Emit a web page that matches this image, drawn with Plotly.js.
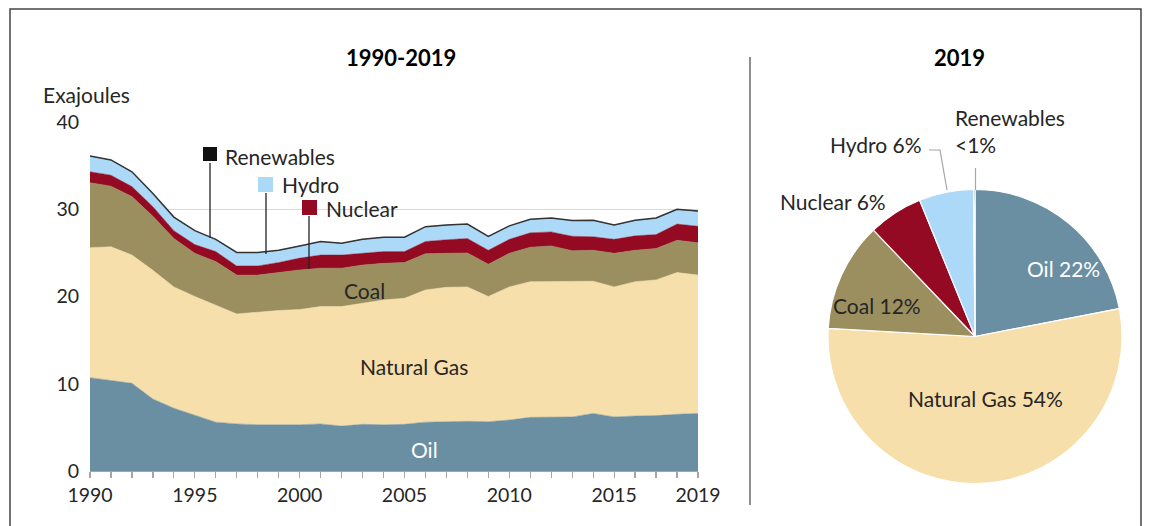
<!DOCTYPE html>
<html>
<head>
<meta charset="utf-8">
<script src="https://cdn.plot.ly/plotly-3.0.1.min.js"></script>
<style>
html,body{margin:0;padding:0;background:#fff;}
#chart{width:1151px;height:526px;}
</style>
</head>
<body>
<div id="chart"></div>
<script>
// ---------- Data ----------
const years = [1990,1991,1992,1993,1994,1995,1996,1997,1998,1999,2000,2001,2002,2003,2004,2005,2006,2007,2008,2009,2010,2011,2012,2013,2014,2015,2016,2017,2018,2019];
const oil = [10.7,10.4,10.05,8.25,7.2,6.4,5.6,5.4,5.3,5.3,5.3,5.4,5.15,5.35,5.3,5.35,5.6,5.65,5.7,5.65,5.85,6.15,6.15,6.2,6.6,6.2,6.3,6.35,6.5,6.6];
const naturalGas = [14.9,15.3,14.7,14.75,13.9,13.6,13.4,12.6,12.9,13.1,13.2,13.45,13.7,13.85,14.3,14.45,15.15,15.4,15.4,14.35,15.25,15.55,15.55,15.5,15.15,14.9,15.4,15.55,16.25,15.85];
const coal = [7.45,6.95,6.7,6.2,5.55,4.95,5.0,4.45,4.25,4.35,4.55,4.4,4.4,4.4,4.2,4.1,4.15,3.9,3.9,3.7,3.85,3.95,4.1,3.55,3.55,3.85,3.6,3.6,3.7,3.7];
const nuclear = [1.25,1.25,1.15,1.1,0.9,1.0,1.15,1.05,1.05,1.15,1.35,1.5,1.5,1.35,1.35,1.25,1.4,1.55,1.65,1.6,1.6,1.65,1.6,1.65,1.55,1.6,1.65,1.6,1.85,1.9];
const hydro = [1.78,1.73,1.68,1.48,1.53,1.58,1.38,1.53,1.53,1.38,1.38,1.53,1.33,1.58,1.63,1.62,1.67,1.67,1.62,1.57,1.52,1.52,1.57,1.77,1.87,1.61,1.76,1.85,1.65,1.69];
const renewables = [0.02,0.02,0.02,0.02,0.02,0.02,0.02,0.02,0.02,0.02,0.02,0.02,0.02,0.02,0.02,0.03,0.03,0.03,0.03,0.03,0.03,0.03,0.03,0.03,0.03,0.04,0.04,0.05,0.05,0.06];

const xTickVals = [1990,1995,2000,2005,2010,2015,2019];
const xTickText = ['1990','1995','2000','2005','2010','2015','2019'];
const yTickVals = [0,10,20,30,40];

const pieLabels = ['Oil','Natural Gas','Coal','Nuclear','Hydro','Renewables'];
const pieShares = [22,54,12,6,6,0.15];
const pieText = ['Oil 22%','Natural Gas 54%','Coal 12%','Nuclear 6%','Hydro 6%','Renewables<br><1%'];

// ---------- Styles ----------
const C = {oil:'#6a8ea2', gas:'#f7dfab', coal:'#9b8f5f', nuclear:'#930a22', hydro:'#add9f8', renew:'#111111'};
const W = 1151, H = 526;
const px = x => x / W;
const py = y => 1 - y / H;
const FONT = 'Lato, "Open Sans", sans-serif';
const TXT = '#262626';
const FS = 21;

function area(name, y, color, lineColor, lw) {
  return {
    type:'scatter', mode:'lines', x: years, y: y, name: name,
    stackgroup:'one', fillcolor: color,
    line:{color: lineColor || color, width: lw === undefined ? 0.5 : lw},
    hoverinfo:'skip', xaxis:'x', yaxis:'y'
  };
}

const traces = [
  area('Oil', oil, C.oil),
  area('Natural Gas', naturalGas, C.gas),
  area('Coal', coal, C.coal),
  area('Nuclear', nuclear, C.nuclear),
  area('Hydro', hydro, C.hydro),
  area('Renewables', renewables, C.renew, '#333333', 1.5),
  {
    type:'pie', labels: pieLabels, values: pieShares, sort:false, direction:'clockwise', rotation:0,
    marker:{colors:[C.oil,C.gas,C.coal,C.nuclear,C.hydro,C.renew], line:{color:'#ffffff', width:1.2}},
    textinfo:'none', hoverinfo:'skip', showlegend:false,
    domain:{x:[px(828), px(1122)], y:[py(484), py(189)]}
  }
];

function ann(text, x, y, opts) {
  return Object.assign({
    text: text, x: px(x), y: py(y), xref:'paper', yref:'paper',
    xanchor:'center', yanchor:'middle', showarrow:false,
    font:{size:FS, color:TXT}
  }, opts || {});
}

const annotations = [
  ann('<b>1990-2019</b>', 401, 58, {font:{size:22, color:'#000'}}),
  ann('<b>2019</b>', 960, 58, {font:{size:22, color:'#000'}}),
  ann('Exajoules', 41, 95, {xanchor:'left'}),
  // area labels
  ann('Renewables', 223, 156, {xanchor:'left'}),
  ann('Hydro', 280, 185, {xanchor:'left'}),
  ann('Nuclear', 324, 208, {xanchor:'left'}),
  ann('Coal', 364, 290),
  ann('Natural Gas', 414, 366),
  ann('Oil', 424, 449, {font:{size:FS, color:'#ffffff'}}),
  // pie labels
  ann(pieText[0], 1063, 268, {font:{size:FS, color:'#ffffff'}}),
  ann(pieText[1], 985, 398),
  ann(pieText[2], 877, 305),
  ann(pieText[3], 833, 201),
  ann(pieText[4], 876, 145),
  ann(pieText[5], 953, 131, {xanchor:'left', align:'left'})
];

const shapes = [
  // frame
  {type:'rect', xref:'paper', yref:'paper', x0:px(10), x1:px(1141), y0:py(540), y1:py(9), line:{color:'#444', width:1.5}},
  // separator
  {type:'line', xref:'paper', yref:'paper', x0:px(750), x1:px(750), y0:py(57), y1:py(505), line:{color:'#444', width:1.2}},
  // legend squares
  {type:'rect', xref:'paper', yref:'paper', x0:px(203), x1:px(217), y0:py(161), y1:py(147), fillcolor:C.renew, line:{width:0}},
  {type:'rect', xref:'paper', yref:'paper', x0:px(258), x1:px(273), y0:py(192), y1:py(177), fillcolor:C.hydro, line:{width:0}},
  {type:'rect', xref:'paper', yref:'paper', x0:px(302), x1:px(317), y0:py(215), y1:py(200), fillcolor:C.nuclear, line:{width:0}},
  // leader lines
  {type:'line', xref:'paper', yref:'paper', x0:px(210), x1:px(210), y0:py(163), y1:py(238), line:{color:'#222', width:1.3}},
  {type:'line', xref:'paper', yref:'paper', x0:px(266), x1:px(266), y0:py(193), y1:py(254), line:{color:'#222', width:1.3}},
  {type:'line', xref:'paper', yref:'paper', x0:px(309), x1:px(309), y0:py(216), y1:py(269), line:{color:'#222', width:1.3}},
  // pie leader lines
  {type:'path', xref:'paper', yref:'paper', path:`M ${px(929)} ${py(150)} L ${px(940)} ${py(150)} L ${px(947)} ${py(190)}`, line:{color:'#a6a6a6', width:1.2}},
  {type:'line', xref:'paper', yref:'paper', x0:px(975.5), x1:px(975.5), y0:py(168), y1:py(190), line:{color:'#a6a6a6', width:1.2}}
];

const layout = {
  width:W, height:H, margin:{l:0,r:0,t:0,b:0}, showlegend:false,
  paper_bgcolor:'#ffffff', plot_bgcolor:'#ffffff',
  font:{family:FONT, size:FS, color:TXT},
  xaxis:{
    domain:[px(90), px(698)], range:[1990,2019], tickvals:xTickVals, ticktext:xTickText,
    ticks:'outside', ticklen:6, tickcolor:'#a6a6a6', tickwidth:1.2,
    minor:{dtick:1, tick0:1990, ticks:'outside', ticklen:6, tickcolor:'#a6a6a6', tickwidth:1.2, showgrid:false},
    showline:true, linecolor:'#a6a6a6', linewidth:1.2, showgrid:false, zeroline:false,
    tickfont:{size:19.5, color:TXT}, fixedrange:true
  },
  yaxis:{
    domain:[py(471), py(122)], range:[0,40], tickvals:yTickVals,
    showgrid:true, gridcolor:'#d9d9d9', gridwidth:1.5, zeroline:false, showline:false,
    ticks:'', ticklabelstandoff:10, tickfont:{size:19.5, color:TXT}, fixedrange:true
  },
  annotations: annotations,
  shapes: shapes
};

Plotly.newPlot('chart', traces, layout, {staticPlot:true, displayModeBar:false});
</script>
</body>
</html>
